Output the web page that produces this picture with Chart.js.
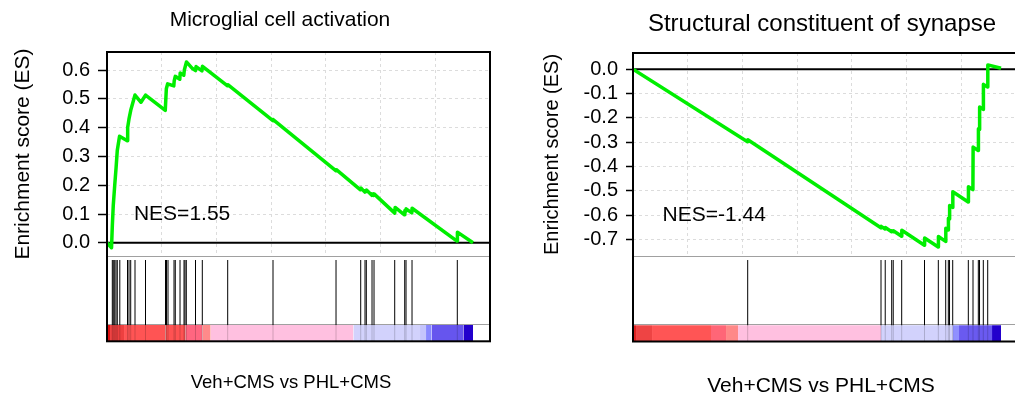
<!DOCTYPE html>
<html lang="en">
<head>
    <meta charset="UTF-8">
    <title>GSEA enrichment plots</title>
    <script src="https://cdn.jsdelivr.net/npm/chart.js"></script>
    <style>
        html, body { margin: 0; padding: 0; background: #fff; overflow: hidden; width: 1015px; height: 399px; }
        canvas { position: absolute; top: 0; }
        #leftPlot { left: 0; }
        #rightPlot { left: 507px; }
    </style>
</head>
<body>
    <canvas id="leftPlot" width="507" height="399"></canvas>
    <canvas id="rightPlot" width="520" height="399"></canvas>

    <script>
// ---- data (x = gene rank in the ranked list) ----

// Microglial cell activation
const leftRank = [0, 170, 200, 235, 290, 340, 385, 470, 760, 775, 825, 890, 1050, 1275, 1445,
    2185, 2225, 2275, 2505, 2520, 2560, 2730, 2745, 2880, 2900, 2980, 3205, 3320, 3340, 3560, 3580,
    4520, 4530, 6220, 6230, 8590, 8600, 9505, 9520, 9670, 9680, 9720, 9730, 9930, 9940, 10005, 10015,
    10790, 10805, 11155, 11170, 11205, 11215, 11430, 11440, 13125, 13140, 13725];
const leftES = [0, -0.017, 0.06, 0.13, 0.20, 0.26, 0.32, 0.37, 0.354, 0.40, 0.43, 0.46, 0.513, 0.488, 0.513,
    0.46, 0.535, 0.552, 0.545, 0.562, 0.578, 0.568, 0.59, 0.582, 0.60, 0.628, 0.605, 0.598, 0.612, 0.597, 0.613,
    0.545, 0.549, 0.424, 0.428, 0.25, 0.254, 0.184, 0.19, 0.176, 0.181, 0.178, 0.183, 0.165, 0.17, 0.165, 0.17,
    0.103, 0.123, 0.097, 0.112, 0.109, 0.118, 0.104, 0.12, 0.006, 0.037, 0.0];
const leftHits = [199, 236, 289, 338, 386, 480, 769, 825, 889, 1050, 1444, 2194, 2231, 2288, 2513, 2561,
    2738, 2888, 2925, 2974, 3319, 3574, 4526, 6225, 8588, 9514, 9675, 9724, 9938, 10013, 10789, 11164,
    11213, 11438, 13136];
const leftBarStops = [0, 113, 638, 2200, 2950, 3575, 3888, 9238, 11738, 11963, 12175, 13363, 13725];
const leftBarColors = ['#dd1111', '#ee4040', '#ff5454', '#ff5252', '#ff6680', '#ff8a8a', '#ffc0e0',
    '#d2d2fc', '#c4c4fc', '#8888ff', '#6655ee', '#2200cc'];
const leftTicks = [0, 0.1, 0.2, 0.3, 0.4, 0.5, 0.6];

// Structural constituent of synapse
const rightRank = [0, 4294, 4305, 9296, 9304, 9454, 9461, 9698, 9705, 9754, 9761, 10073, 10080, 10928, 10935,
    11445, 11453, 11723, 11730, 11820, 11828, 11865, 11873, 11985, 11993, 12570, 12578, 12746, 12754,
    12945, 12953, 12990, 12998, 13133, 13140, 13298, 13305, 13800];
const rightES = [0, -0.298, -0.29, -0.652, -0.646, -0.657, -0.651, -0.668, -0.664, -0.668, -0.664, -0.687, -0.662,
    -0.724, -0.694, -0.731, -0.688, -0.708, -0.654, -0.661, -0.613, -0.616, -0.56, -0.568, -0.504,
    -0.546, -0.483, -0.495, -0.32, -0.334, -0.245, -0.248, -0.155, -0.165, -0.062, -0.073, 0.018, 0.004];
const rightHits = [4301, 9300, 9458, 9701, 9758, 10076, 10931, 11449, 11726, 11824, 11869, 11989, 12574,
    12750, 12949, 12994, 13136, 13301];
const rightBarStops = [0, 113, 713, 2925, 3488, 3938, 9300, 12000, 12225, 13463, 13800];
const rightBarColors = ['#dd2222', '#ee4444', '#ff5555', '#ff6677', '#ff8888', '#ffc0e0', '#d2d2fc',
    '#9090ff', '#6a5af0', '#2200cc'];
const rightTicks = [0, -0.1, -0.2, -0.3, -0.4, -0.5, -0.6, -0.7];

// ---- drawing ----
const FONT = '"Liberation Sans", Arial, Helvetica, sans-serif';
Chart.defaults.font.family = FONT;
Chart.defaults.color = '#000';

const RANK_MAX = 14362;   // right edge of the frame
const HIT_TOP = 0.953;    // hit panel runs 0..1
const BAR_TOP = 0.19;

// frame, separators, zero line and the free texts
const panelDecor = {
    id: 'panelDecor',
    beforeDatasetsDraw(chart) {
        const { ctx, chartArea: a, scales: { es, hit } } = chart;
        ctx.save();
        // x grid only belongs to the ES part
        ctx.fillStyle = '#fff';
        ctx.fillRect(a.left, es.bottom, a.right - a.left, a.bottom - es.bottom);
        ctx.strokeStyle = '#a0a0a0';
        ctx.lineWidth = 1;
        const sep = Math.round(es.bottom) + 0.5;
        const barTop = Math.round(hit.getPixelForValue(BAR_TOP)) - 0.5;
        ctx.beginPath();
        ctx.moveTo(a.left, sep); ctx.lineTo(a.right, sep);
        ctx.moveTo(a.left, barTop); ctx.lineTo(a.right, barTop);
        ctx.stroke();
        const y0 = es.getPixelForValue(0);
        ctx.strokeStyle = '#000';
        ctx.lineWidth = 2;
        ctx.beginPath();
        ctx.moveTo(a.left, y0); ctx.lineTo(a.right, y0);
        ctx.stroke();
        ctx.restore();
    },
    afterDraw(chart, args, opts) {
        const { ctx, chartArea: a, scales: { x, es } } = chart;
        ctx.save();
        ctx.strokeStyle = '#000';
        ctx.lineWidth = 2;
        ctx.strokeRect(a.left, a.top, a.right - a.left, a.bottom - a.top);
        ctx.fillStyle = '#000';
        ctx.textBaseline = 'middle';
        ctx.textAlign = 'center';
        ctx.font = opts.titleSize + 'px ' + FONT;
        ctx.fillText(opts.title, opts.titleX, opts.titleY);
        ctx.font = opts.xLabelSize + 'px ' + FONT;
        ctx.fillText(opts.xLabel, opts.xLabelX, opts.xLabelY);
        ctx.textAlign = 'left';
        ctx.font = opts.nesSize + 'px ' + FONT;
        ctx.fillText(opts.nes, x.getPixelForValue(opts.nesAt[0]), es.getPixelForValue(opts.nesAt[1]));
        ctx.restore();
    }
};

function makePanel(id, p) {
    const datasets = [{
        data: p.rank.map((r, i) => ({ x: r, y: p.es[i] })),
        yAxisID: 'es',
        borderColor: '#00ee00',
        borderWidth: 3.5,
        borderJoinStyle: 'round',
        pointRadius: 0,
        fill: false
    }];

    const hitPts = [];
    const hitShade = [];
    p.hits.forEach(r => {
        hitPts.push({ x: r, y: BAR_TOP }, { x: r, y: HIT_TOP }, { x: r, y: null });
        hitShade.push({ x: r, y: 0 }, { x: r, y: BAR_TOP }, { x: r, y: null });
    });
    datasets.push({ data: hitPts, yAxisID: 'hit', borderColor: '#000', borderWidth: 1, pointRadius: 0, spanGaps: false, fill: false });
    datasets.push({ data: hitShade, yAxisID: 'hit', borderColor: 'rgba(0,0,0,0.18)', borderWidth: 1, pointRadius: 0, spanGaps: false, fill: false });

    p.barColors.forEach((c, i) => {
        datasets.push({
            data: [{ x: p.barStops[i], y: BAR_TOP }, { x: p.barStops[i + 1], y: BAR_TOP }],
            yAxisID: 'hit',
            fill: 'start',
            backgroundColor: c,
            borderColor: c,
            borderWidth: 0,
            pointRadius: 0
        });
    });

    return new Chart(document.getElementById(id), {
        type: 'line',
        data: { datasets },
        plugins: [panelDecor],
        options: {
            responsive: false,
            animation: false,
            events: [],
            layout: { padding: p.padding },
            plugins: {
                legend: { display: false },
                tooltip: { enabled: false },
                panelDecor: p.text
            },
            scales: {
                x: {
                    type: 'linear', min: 0, max: RANK_MAX,
                    ticks: { display: false, stepSize: 2000 },
                    grid: { color: '#dcdcdc', drawTicks: false },
                    border: { display: false, dash: [3, 3] },
                    afterFit: s => { s.height = 0; }
                },
                hit: {
                    type: 'linear', position: 'left', stack: 'gsea', stackWeight: p.hitWeight, weight: 1,
                    min: 0, max: 1,
                    ticks: { display: false },
                    grid: { display: false },
                    border: { display: false },
                    afterFit: s => { s.width = p.axisWidth; }
                },
                es: {
                    type: 'linear', position: 'left', stack: 'gsea', stackWeight: p.esWeight, weight: 2,
                    min: p.esMin, max: p.esMax,
                    afterBuildTicks: s => { s.ticks = p.ticks.map(v => ({ value: v })); },
                    ticks: { callback: v => v.toFixed(1), font: { size: 20 }, padding: 8, color: '#000', autoSkip: false },
                    grid: { color: '#dcdcdc', tickColor: '#000', tickLength: p.tickLength, tickWidth: 1.5 },
                    border: { display: false, dash: [3, 3] },
                    title: {
                        display: true, text: 'Enrichment score (ES)', color: '#000',
                        font: { size: p.yTitleSize }, padding: { top: p.yTitlePad, bottom: 0 }
                    },
                    afterFit: s => { s.width = p.axisWidth; }
                }
            }
        }
    });
}

makePanel('leftPlot', {
    rank: leftRank, es: leftES, hits: leftHits, barStops: leftBarStops, barColors: leftBarColors, ticks: leftTicks,
    esMin: -0.0458, esMax: 0.6625, esWeight: 204, hitWeight: 85.3,
    axisWidth: 107, tickLength: 9, yTitleSize: 21, yTitlePad: 10.4,
    padding: { top: 52, bottom: 57.7, left: 0, right: 17 },
    text: {
        title: 'Microglial cell activation', titleSize: 21, titleX: 280, titleY: 20,
        xLabel: 'Veh+CMS vs PHL+CMS', xLabelSize: 18.5, xLabelX: 291, xLabelY: 383,
        nes: 'NES=1.55', nesSize: 21, nesAt: [1010, 0.1]
    }
});

makePanel('rightPlot', {
    rank: rightRank, es: rightES, hits: rightHits, barStops: rightBarStops, barColors: rightBarColors, ticks: rightTicks,
    esMin: -0.768, esMax: 0.067, esWeight: 203, hitWeight: 85.5,
    axisWidth: 126, tickLength: 7, yTitleSize: 20, yTitlePad: 33,
    padding: { top: 53, bottom: 57.5, left: 0, right: 11 },
    text: {
        title: 'Structural constituent of synapse', titleSize: 24, titleX: 315, titleY: 24,
        xLabel: 'Veh+CMS vs PHL+CMS', xLabelSize: 21, xLabelX: 314, xLabelY: 386,
        nes: 'NES=-1.44', nesSize: 21, nesAt: [1110, -0.60]
    }
});
    </script>
</body>
</html>
